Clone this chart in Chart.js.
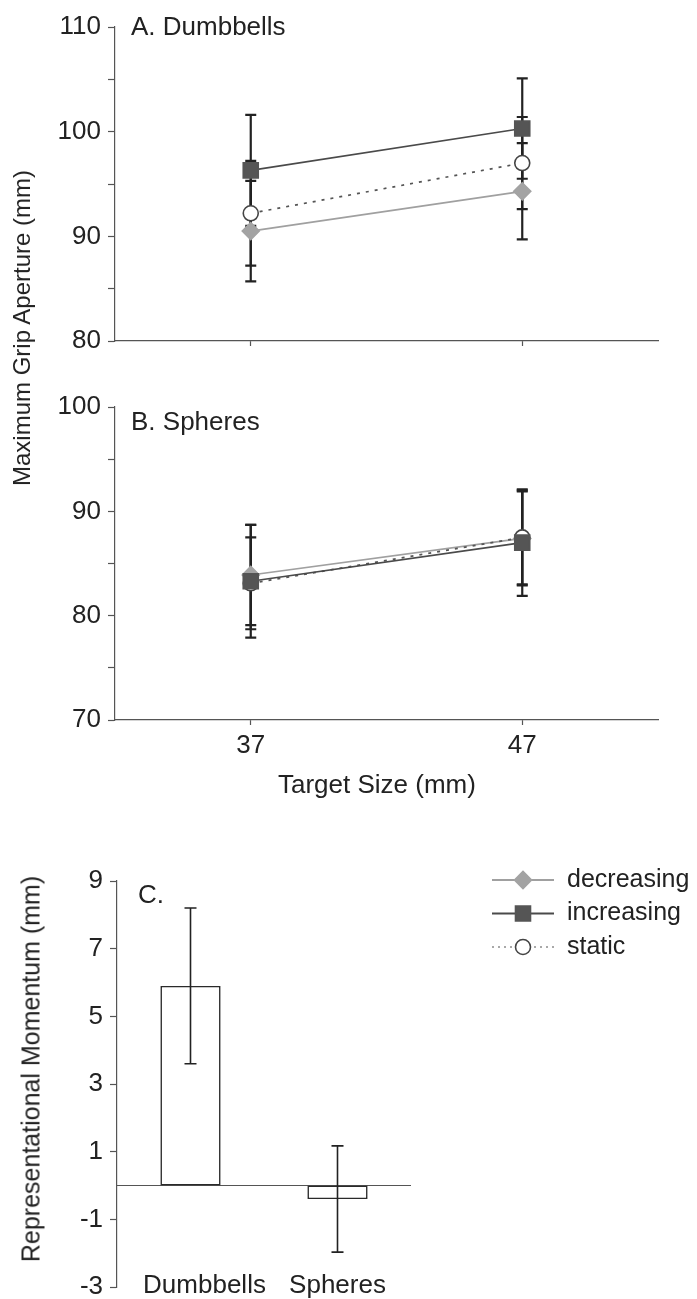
<!DOCTYPE html>
<html>
<head>
<meta charset="utf-8">
<script src="https://cdn.jsdelivr.net/npm/chart.js@4.4.1/dist/chart.umd.min.js"></script>
<style>
  html, body { margin: 0; padding: 0; background: #fff; }
  body { width: 697px; height: 1299px; position: relative; overflow: hidden;
         font-family: "Liberation Sans", Arial, Helvetica, sans-serif; color: #222; }
  .panel { position: absolute; left: 0; width: 697px; }
  .txt { position: absolute; white-space: nowrap; line-height: 1; z-index: 2; }
  .rot { transform: translate(-50%, -50%) rotate(-90deg); }
</style>
</head>
<body>
<div class="panel" style="top:0;height:380px"><canvas id="chartA"></canvas></div>
<div class="panel" style="top:360px;height:440px"><canvas id="chartB"></canvas></div>
<div class="panel" style="top:820px;height:520px"><canvas id="chartC"></canvas></div>

<div class="txt" style="left:131px;top:13px;font-size:26px">A. Dumbbells</div>
<div class="txt" style="left:131px;top:408px;font-size:26px">B. Spheres</div>
<div class="txt" style="left:138px;top:881px;font-size:26px">C.</div>
<div class="txt" style="left:278px;top:771px;font-size:26px">Target Size (mm)</div>
<div class="txt rot" style="left:22px;top:328px;font-size:24px">Maximum Grip Aperture (mm)</div>
<div class="txt rot" style="left:31px;top:1069px;font-size:25px">Representational Momentum (mm)</div>

<script>
// target sizes on the x axis (mm)
var targetSizes = [37, 47];
var seriesNames = ['decreasing', 'increasing', 'static'];

// A. Dumbbells: mean max grip aperture and error half-widths
var dumbDecreasing = [90.5, 94.3];
var dumbIncreasing = [96.3, 100.3];
var dumbStatic = [92.2, 97.0];
var dumbDecreasingErr = [4.8, 4.6];
var dumbIncreasingErr = [5.3, 4.8];
var dumbStaticErr = [5.0, 4.4];

// B. Spheres
var sphDecreasing = [83.9, 87.4];
var sphIncreasing = [83.3, 87.0];
var sphStatic = [83.1, 87.5];
var sphDecreasingErr = [4.8, 4.5];
var sphIncreasingErr = [5.4, 5.1];
var sphStaticErr = [4.4, 4.5];

var ticksA = [80, 85, 90, 95, 100, 105, 110];
var ticksB = [70, 75, 80, 85, 90, 95, 100];

// C. representational momentum
var objects = ['Dumbbells', 'Spheres'];
var momentum = [5.9, -0.4];
var momentumErr = [2.3, 1.57];
var ticksC = [-3, -1, 1, 3, 5, 7, 9];

var styles = {
    decreasing: { line: '#a0a0a0', fill: '#a3a3a3', edge: '#a3a3a3', point: 'rectRot', r: 8.5, dash: [], order: 3 },
    increasing: { line: '#4a4a4a', fill: '#555555', edge: '#555555', point: 'rect', r: 10.6, dash: [], order: 1 },
    static: { line: '#555555', fill: '#ffffff', edge: '#444444', point: 'circle', r: 7.5, dash: [3, 6], order: 2 }
};

Chart.defaults.font.family = '"Liberation Sans", Arial, Helvetica, sans-serif';
Chart.defaults.font.size = 26;
Chart.defaults.color = '#222';

function drawErrs(chart, opts) {
    var ctx = chart.ctx;
    var y = chart.scales.y;
    chart.data.datasets.forEach(function (ds, i) {
        if (!ds.errors) return;
        var meta = chart.getDatasetMeta(i);
        meta.data.forEach(function (el, j) {
            var v = ds.data[j];
            var val = typeof v === 'object' ? v.y : v;
            var e = ds.errors[j];
            var top = y.getPixelForValue(val + e);
            var bot = y.getPixelForValue(val - e);
            var x = el.x;
            var c = opts.cap;
            ctx.save();
            ctx.strokeStyle = '#222';
            ctx.lineWidth = opts.width;
            ctx.beginPath();
            ctx.moveTo(x, top); ctx.lineTo(x, bot);
            ctx.moveTo(x - c, top); ctx.lineTo(x + c, top);
            ctx.moveTo(x - c, bot); ctx.lineTo(x + c, bot);
            ctx.stroke();
            ctx.restore();
        });
    });
}

var errorBars = {
    id: 'errorBars',
    beforeDatasetsDraw: function (chart, args, opts) { if (!opts.after) drawErrs(chart, opts); },
    afterDatasetsDraw: function (chart, args, opts) { if (opts.after) drawErrs(chart, opts); }
};

var zeroLine = {
    id: 'zeroLine',
    beforeDatasetsDraw: function (chart) {
        var ctx = chart.ctx, a = chart.chartArea;
        var y0 = chart.scales.y.getPixelForValue(0);
        ctx.save();
        ctx.strokeStyle = '#555';
        ctx.lineWidth = 1.2;
        ctx.beginPath();
        ctx.moveTo(a.left, y0); ctx.lineTo(a.right, y0);
        ctx.stroke();
        ctx.restore();
    }
};

// category names sit inside the plot bottom, so they are drawn here (the axis would clip them)
var categoryLabels = {
    id: 'categoryLabels',
    afterDraw: function (chart) {
        var ctx = chart.ctx, xs = chart.scales.x;
        var shift = [14, 0];
        ctx.save();
        ctx.fillStyle = '#222';
        ctx.font = '26px "Liberation Sans", Arial, sans-serif';
        ctx.textAlign = 'center';
        ctx.textBaseline = 'alphabetic';
        chart.data.labels.forEach(function (lab, i) {
            ctx.fillText(lab, xs.getPixelForValue(i) + shift[i], chart.chartArea.bottom + 6);
        });
        ctx.restore();
    }
};

var seriesLegend = {
    id: 'seriesLegend',
    afterDraw: function (chart) {
        var ctx = chart.ctx;
        var x0 = chart.chartArea.right + 81;
        seriesNames.forEach(function (name, i) {
            var s = styles[name];
            var y = 60 + i * 33.5;
            ctx.save();
            ctx.strokeStyle = s.line;
            ctx.lineWidth = name === 'static' ? 1.2 : 1.8;
            ctx.setLineDash(name === 'static' ? [2, 4] : []);
            ctx.beginPath();
            ctx.moveTo(x0, y); ctx.lineTo(x0 + 62, y);
            ctx.stroke();
            ctx.setLineDash([]);
            ctx.fillStyle = s.fill;
            ctx.strokeStyle = s.edge;
            ctx.lineWidth = 1.6;
            Chart.helpers.drawPoint(ctx, { pointStyle: s.point, radius: s.r, borderWidth: 1.6, rotation: 0 }, x0 + 31, y);
            ctx.fillStyle = '#222';
            ctx.font = '25px "Liberation Sans", Arial, sans-serif';
            ctx.textBaseline = 'middle';
            ctx.fillText(name, x0 + 75, y);
            ctx.restore();
        });
    }
};

function lineSet(name, values, errs) {
    var s = styles[name];
    return {
        label: name,
        data: targetSizes.map(function (t, i) { return { x: t, y: values[i] }; }),
        errors: errs,
        order: s.order,
        borderColor: s.line,
        borderWidth: 1.7,
        borderDash: s.dash,
        pointStyle: s.point,
        pointRadius: s.r,
        pointBackgroundColor: s.fill,
        pointBorderColor: s.edge,
        pointBorderWidth: 1.6,
        tension: 0
    };
}

function gripChart(id, datasets, yTicks, showLabels, padTop, xHeight) {
    return new Chart(document.getElementById(id), {
        type: 'line',
        data: { datasets: datasets },
        options: {
            responsive: true,
            maintainAspectRatio: false,
            animation: false,
            layout: { padding: { top: padTop, right: 39, left: 0, bottom: 0 } },
            plugins: {
                legend: { display: false },
                tooltip: { enabled: false },
                errorBars: { after: false, width: 2.2, cap: 5.5 }
            },
            scales: {
                x: {
                    type: 'linear',
                    min: 32,
                    max: 52,
                    afterBuildTicks: function (s) { s.ticks = targetSizes.map(function (v) { return { value: v }; }); },
                    afterFit: function (s) { s.height = xHeight; },
                    grid: { display: true, drawOnChartArea: false, tickLength: 5, tickColor: '#555', tickWidth: 1.2 },
                    border: { display: true, color: '#555', width: 1.2 },
                    ticks: {
                        padding: 5,
                        autoSkip: false,
                        maxRotation: 0,
                        callback: function (v) { return showLabels ? String(v) : ''; }
                    }
                },
                y: {
                    min: yTicks[0],
                    max: yTicks[yTicks.length - 1],
                    afterBuildTicks: function (s) { s.ticks = yTicks.map(function (v) { return { value: v }; }); },
                    afterFit: function (s) { s.width = 115; },
                    grid: { display: true, drawOnChartArea: false, tickLength: 7, tickColor: '#555', tickWidth: 1.2 },
                    border: { display: true, color: '#555', width: 1.2 },
                    ticks: {
                        padding: 7,
                        autoSkip: false,
                        callback: function (v) { return v % 10 === 0 ? String(v) : ''; }
                    }
                }
            }
        },
        plugins: [errorBars]
    });
}

gripChart('chartA', [
    lineSet('decreasing', dumbDecreasing, dumbDecreasingErr),
    lineSet('increasing', dumbIncreasing, dumbIncreasingErr),
    lineSet('static', dumbStatic, dumbStaticErr)
], ticksA, false, 27, 39);

gripChart('chartB', [
    lineSet('decreasing', sphDecreasing, sphDecreasingErr),
    lineSet('increasing', sphIncreasing, sphIncreasingErr),
    lineSet('static', sphStatic, sphStaticErr)
], ticksB, true, 47, 80);

new Chart(document.getElementById('chartC'), {
    type: 'bar',
    data: {
        labels: objects,
        datasets: [{
            data: momentum,
            errors: momentumErr,
            backgroundColor: '#ffffff',
            borderColor: '#2a2a2a',
            borderWidth: 1.6,
            borderSkipped: false,
            categoryPercentage: 1.0,
            barPercentage: 0.41
        }]
    },
    options: {
        responsive: true,
        maintainAspectRatio: false,
        animation: false,
        layout: { padding: { top: 61, right: 286, left: 0, bottom: 0 } },
        plugins: {
            legend: { display: false },
            tooltip: { enabled: false },
            errorBars: { after: true, width: 1.6, cap: 6 }
        },
        scales: {
            x: {
                afterFit: function (s) { s.height = 53; },
                grid: { display: false },
                border: { display: false },
                ticks: { display: false }
            },
            y: {
                min: ticksC[0],
                max: ticksC[ticksC.length - 1],
                afterBuildTicks: function (s) { s.ticks = ticksC.map(function (v) { return { value: v }; }); },
                afterFit: function (s) { s.width = 117; },
                grid: { display: true, drawOnChartArea: false, tickLength: 7, tickColor: '#555', tickWidth: 1.2 },
                border: { display: true, color: '#555', width: 1.2 },
                ticks: { padding: 7, autoSkip: false }
            }
        }
    },
    plugins: [zeroLine, errorBars, categoryLabels, seriesLegend]
});
</script>
</body>
</html>
